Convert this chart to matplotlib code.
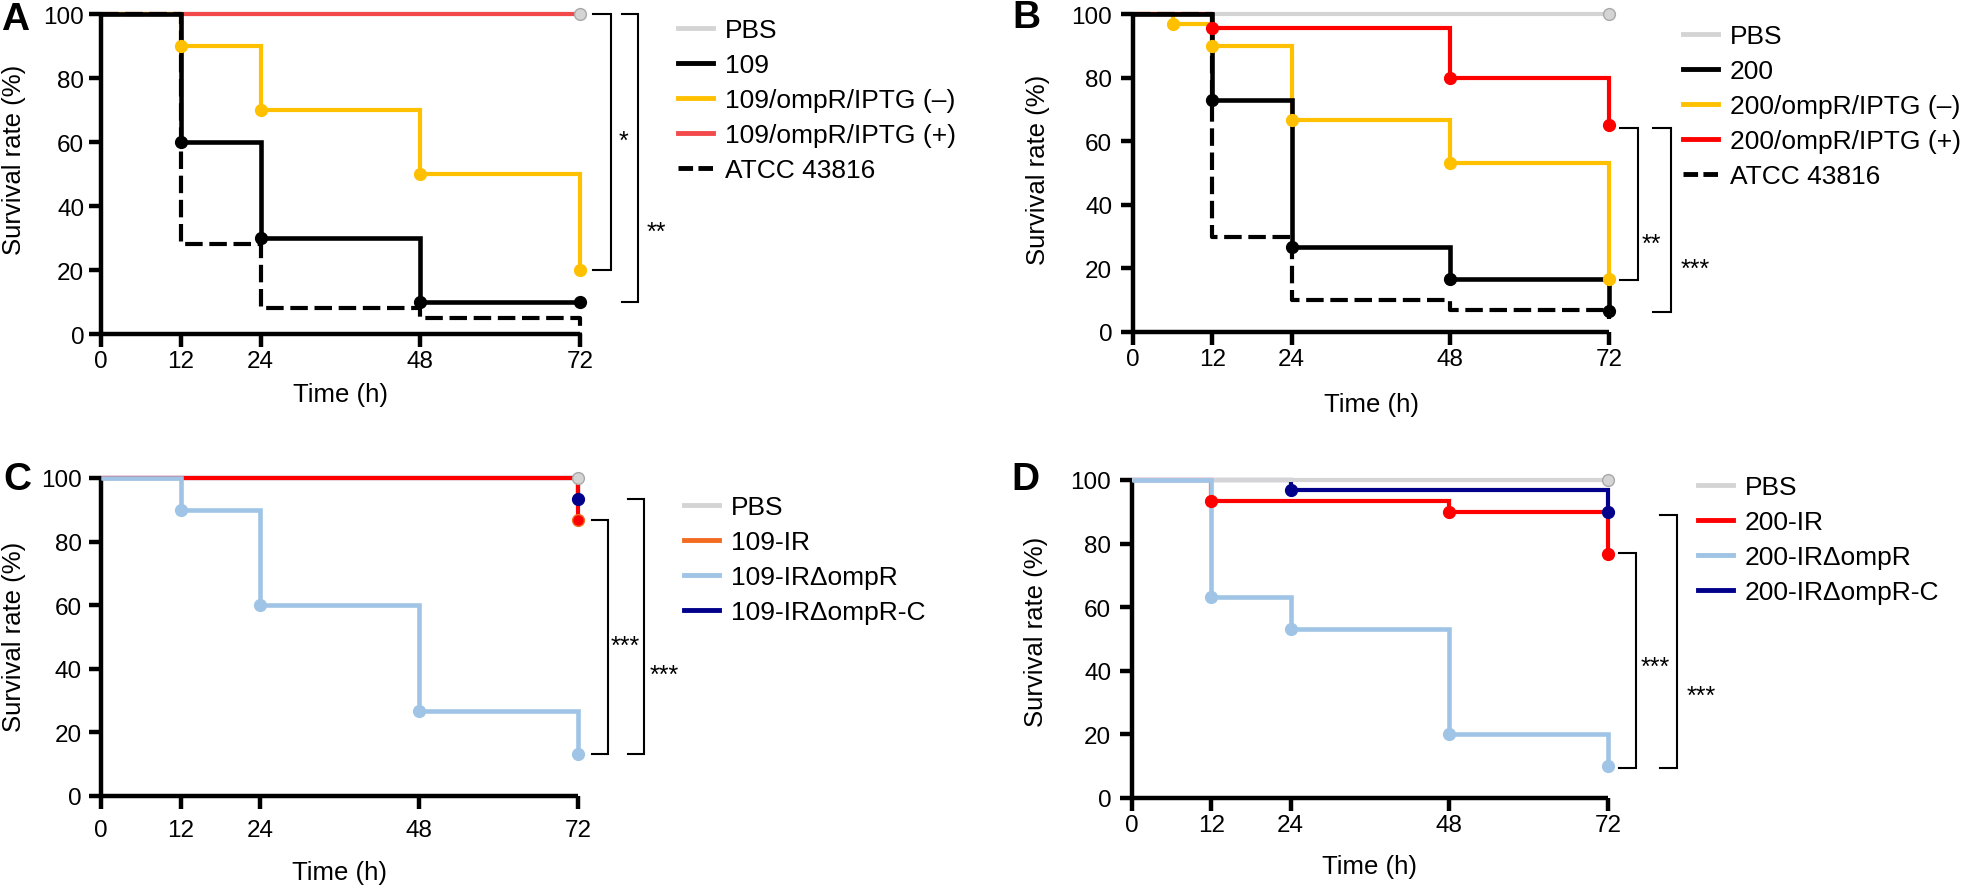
import matplotlib
matplotlib.use("Agg")
import matplotlib.pyplot as plt
import matplotlib.transforms as mtrans
from matplotlib.lines import Line2D
from matplotlib import font_manager as fm

# ---------------- data ----------------
XTICKS = [0, 12, 24, 48, 72]
YTICKS = [0, 20, 40, 60, 80, 100]
XLABEL = "Time (h)"
YLABEL = "Survival rate (%)"

# Panel A
a_labels = ["PBS", "109", "109/ompR/IPTG (–)", "109/ompR/IPTG (+)", "ATCC 43816"]
a_pbs_t, a_pbs_y = [0, 72], [100, 100]
a_109_t, a_109_y = [0, 12, 24, 48, 72], [100, 60, 30, 10, 10]
a_neg_t, a_neg_y = [0, 12, 24, 48, 72], [100, 90, 70, 50, 20]
a_pos_t, a_pos_y = [0, 72], [100, 100]
a_atcc_t, a_atcc_y = [0, 12, 24, 48, 72], [100, 28, 8, 5, 0]
a_sig = [(100, 20, "*"), (100, 10, "**")]

# Panel B
b_labels = ["PBS", "200", "200/ompR/IPTG (–)", "200/ompR/IPTG (+)", "ATCC 43816"]
b_pbs_t, b_pbs_y = [0, 72], [100, 100]
b_200_t, b_200_y = [0, 12, 24, 48, 72], [100, 73, 26.7, 16.7, 6.7]
b_neg_t, b_neg_y = [0, 6, 12, 24, 48, 72], [100, 96.7, 90, 66.7, 53.3, 16.7]
b_pos_t, b_pos_y = [0, 12, 48, 72], [100, 95.5, 80, 65]
b_atcc_t, b_atcc_y = [0, 12, 24, 48, 72], [100, 30, 10, 7, 4]
b_sig = [(64, 16.5, "**"), (64, 6.3, "***")]

# Panel C
c_labels = ["PBS", "109-IR", "109-IRΔompR", "109-IRΔompR-C"]
c_pbs_t, c_pbs_y = [0, 72], [100, 100]
c_ir_t, c_ir_y = [0, 72], [100, 86.7]
c_del_t, c_del_y = [0, 12, 24, 48, 72], [100, 90, 60, 26.7, 13.3]
c_comp_t, c_comp_y = [0, 72], [100, 93.3]
c_sig = [(86.7, 13.3, "***"), (93.5, 13.3, "***")]

# Panel D
d_labels = ["PBS", "200-IR", "200-IRΔompR", "200-IRΔompR-C"]
d_pbs_t, d_pbs_y = [0, 72], [100, 100]
d_ir_t, d_ir_y = [0, 12, 48, 72], [100, 93.3, 90, 76.7]
d_del_t, d_del_y = [0, 12, 24, 48, 72], [100, 63.3, 53.3, 20, 10]
d_comp_t, d_comp_y = [0, 24, 72], [100, 96.7, 90]
d_sig = [(77, 9.5, "***"), (89, 9.5, "***")]

# ---------------- style ----------------
GRAY = "#d4d4d4"
BLACK = "#000000"
YELLOW = "#ffc000"
RED_A = "#f24a4a"
RED = "#ff0000"
LBLUE = "#a0c4e6"
NAVY = "#00008b"
ORANGE = "#f26b21"

names = {f.name for f in fm.fontManager.ttflist}
SANS = "Liberation Sans" if "Liberation Sans" in names else "DejaVu Sans"

W, H = 1961, 887
fig = plt.figure(figsize=(W / 100, H / 100), dpi=100)


def add_ax(l, t, r, b):
    return fig.add_axes([l / W, 1 - b / H, (r - l) / W, (b - t) / H])


def style(ax, ypad, xpad, ylab_xy, xlab_y):
    ax.set_xlim(0, 72)
    ax.set_ylim(0, 100)
    for s in ["top", "right"]:
        ax.spines[s].set_visible(False)
    for s in ["left", "bottom"]:
        ax.spines[s].set_linewidth(3.2)
        ax.spines[s].set_capstyle("butt")
    ax.set_xticks(XTICKS)
    ax.set_yticks(YTICKS)
    ax.tick_params(axis="x", direction="out", length=9.5, width=3.2, pad=xpad,
                   labelsize=17.5)
    ax.tick_params(axis="y", direction="out", length=9, width=3.2, pad=ypad,
                   labelsize=17.5)
    for lab in ax.get_xticklabels() + ax.get_yticklabels():
        lab.set_family(SANS)
    ax.set_xlabel(XLABEL, family=SANS, fontsize=18.5)
    ax.set_ylabel(YLABEL, family=SANS, fontsize=18.5)
    ax.xaxis.label.set_verticalalignment("center")
    ax.yaxis.label.set_verticalalignment("center")
    ax.xaxis.set_label_coords(0.5, xlab_y)
    ax.yaxis.set_label_coords(*ylab_xy)


def curve(ax, t, y, color, z, lw=3.0, ls="-", marks=None, mcolor=None, mec=None):
    ax.step(t, y, where="post", color=color, lw=lw, ls=ls, clip_on=False,
            zorder=z, solid_joinstyle="miter", solid_capstyle="butt",
            dash_capstyle="butt")
    if marks:
        mc = mcolor or color
        ax.plot([t[i] for i in marks], [y[i] for i in marks], "o", ms=8.5,
                color=mc, mec=mec or mc, mew=1.0, clip_on=False, zorder=z + 10)


def brackets(ax, sig, geom):
    tr = mtrans.blended_transform_factory(ax.transAxes, ax.transData)
    for (ytop, ybot, lab), (x0, x1, tx, ty) in zip(sig, geom):
        ax.plot([x0, x1, x1, x0], [ytop, ytop, ybot, ybot], color="black",
                lw=1.5, transform=tr, clip_on=False, solid_joinstyle="miter")
        ax.text(tx, ty, lab, transform=tr, ha="center", va="center",
                family=SANS, fontsize=18)


def legend(ax, handles, labels, x, top):
    ax.legend(handles, labels, loc="upper left", bbox_to_anchor=(x / W, 1 - top / H),
              bbox_transform=fig.transFigure, frameon=False, prop={"family": SANS, "size": 19},
              handlelength=1.33, handletextpad=0.45, labelspacing=0.42,
              borderpad=0, borderaxespad=0)


def H_(color, ls="-"):
    return Line2D([], [], color=color, lw=3.5, ls=ls, dash_capstyle="butt")


DASH = (0, (4.2, 1.6))
LDASH = (0, (3.0, 1.1))
PBS_MEC = "#a8a8a8"

# ---------------- Panel A ----------------
axA = add_ax(101, 15, 580, 335)
curve(axA, a_pbs_t, a_pbs_y, GRAY, 1, marks=[1], mec=PBS_MEC)
curve(axA, a_pos_t, a_pos_y, RED_A, 2)
curve(axA, a_neg_t, a_neg_y, YELLOW, 3, marks=[1, 2, 3, 4])
curve(axA, a_atcc_t, a_atcc_y, BLACK, 4, ls=DASH)
curve(axA, a_109_t, a_109_y, BLACK, 5, lw=3.3, marks=[1, 2, 3, 4])
style(axA, 3, 2, (-0.182, 0.547), -0.1875)
brackets(axA, a_sig, [(1.027, 1.065, 1.090, 60.5), (1.088, 1.121, 1.159, 32)])
legend(axA, [H_(GRAY), H_(BLACK), H_(YELLOW), H_(RED_A), H_(BLACK, LDASH)], a_labels, 678, 19)

# ---------------- Panel B ----------------
axB = add_ax(1133, 15, 1609, 333)
curve(axB, b_pbs_t, b_pbs_y, GRAY, 1, marks=[1], mec=PBS_MEC)
curve(axB, b_neg_t, b_neg_y, YELLOW, 2, marks=[1, 2, 3, 4, 5])
curve(axB, b_pos_t, b_pos_y, RED, 3, marks=[1, 2, 3])
curve(axB, b_atcc_t, b_atcc_y, BLACK, 4, ls=DASH)
curve(axB, b_200_t, b_200_y, BLACK, 5, lw=3.3, marks=[1, 2, 3, 4])
style(axB, 6, 2, (-0.200, 0.513), -0.226)
brackets(axB, b_sig, [(1.023, 1.061, 1.088, 27.8), (1.092, 1.130, 1.181, 19.7)])
legend(axB, [H_(GRAY), H_(BLACK), H_(YELLOW), H_(RED), H_(BLACK, LDASH)], b_labels, 1683, 25)

# ---------------- Panel C ----------------
axC = add_ax(101, 479, 578, 797)
curve(axC, c_pbs_t, c_pbs_y, GRAY, 1, marks=[1], mec=PBS_MEC)
curve(axC, c_comp_t, c_comp_y, NAVY, 2, marks=[1])
curve(axC, c_ir_t, c_ir_y, RED, 3, marks=[1], mcolor=RED, mec=ORANGE)
curve(axC, c_del_t, c_del_y, LBLUE, 4, lw=3.3, marks=[1, 2, 3, 4])
style(axC, 5, 7, (-0.183, 0.503), -0.239)
brackets(axC, c_sig, [(1.029, 1.063, 1.099, 47.3), (1.105, 1.139, 1.181, 38.2)])
legend(axC, [H_(GRAY), H_(ORANGE), H_(LBLUE), H_(NAVY)], c_labels, 684, 496)

# ---------------- Panel D ----------------
axD = add_ax(1132, 481, 1608, 799)
curve(axD, d_comp_t, d_comp_y, NAVY, 1, marks=[1, 2])
curve(axD, d_ir_t, d_ir_y, RED, 2, marks=[1, 2, 3])
curve(axD, d_pbs_t, d_pbs_y, GRAY, 3, marks=[1], mec=PBS_MEC)
curve(axD, d_del_t, d_del_y, LBLUE, 4, lw=3.3, marks=[1, 2, 3, 4])
style(axD, 6, 2, (-0.202, 0.525), -0.214)
brackets(axD, d_sig, [(1.023, 1.059, 1.099, 41.1), (1.109, 1.145, 1.195, 32.2)])
legend(axD, [H_(GRAY), H_(RED), H_(LBLUE), H_(NAVY)], d_labels, 1698, 476)

# ---------------- panel letters ----------------
for lab, x, yb in [("A", 1, 30), ("B", 1012, 28), ("C", 3, 490), ("D", 1011, 490)]:
    fig.text(x / W, 1 - yb / H, lab, ha="left", va="baseline", family=SANS,
             fontsize=28, fontweight="bold")

fig.savefig("out.png", dpi=100)
